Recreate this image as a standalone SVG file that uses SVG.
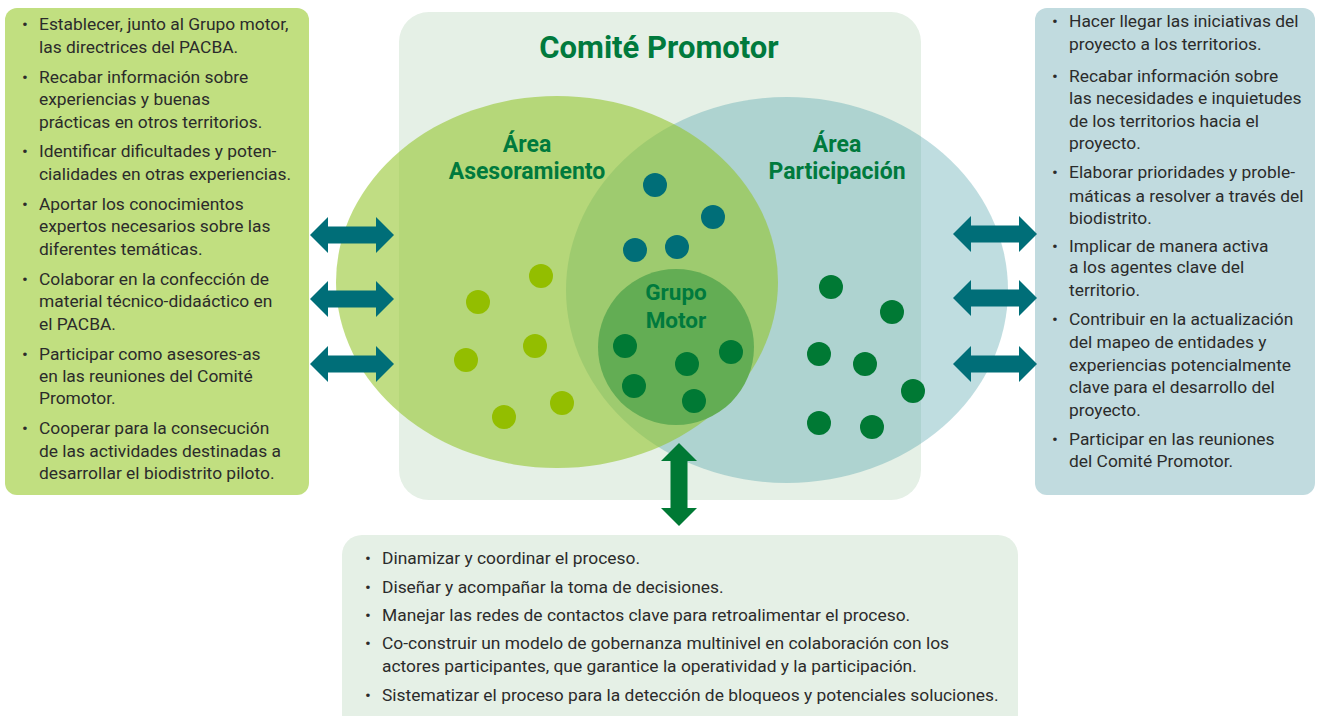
<svg xmlns="http://www.w3.org/2000/svg" width="1317" height="716" viewBox="0 0 1317 716">
<defs>
<style>
.t{font-family:Roboto,"Liberation Sans",sans-serif;font-size:17.4px;fill:#2b2b2b}
.h{font-family:Roboto,"Liberation Sans",sans-serif;font-weight:bold;fill:#007a3d;text-anchor:middle}
.lg{fill:#93be00}
.tl{fill:#006e78}
.dg{fill:#007934}
</style>
<path id="harr" d="M0,0 L18,-18 L18,-8.5 L66,-8.5 L66,-18 L84,0 L66,18 L66,8.5 L18,8.5 L18,18 Z" fill="#006e78"/>
</defs>
<rect width="1317" height="716" fill="#ffffff"/>

<g id="comite">
<rect x="399" y="12" width="522" height="488" rx="30" fill="#e5f0e6"/>
<text class="h" x="659" y="58" font-size="31">Comité Promotor</text>
</g>

<g id="area-participacion">
<ellipse cx="787" cy="290" rx="221" ry="193" fill="#479da6" opacity="0.35"/>
</g>
<g id="area-asesoramiento">
<ellipse cx="557" cy="282" rx="221" ry="186" fill="#92c52a" opacity="0.58"/>
</g>
<g id="grupo-motor">
<circle cx="676" cy="347" r="78" fill="#63ad54"/>
<text class="h" x="676" y="300" font-size="22.5">Grupo</text>
<text class="h" x="676" y="328" font-size="22.5">Motor</text>
</g>

<g id="labels">
<text class="h" x="527" y="152" font-size="23">Área</text>
<text class="h" x="527" y="179" font-size="23">Asesoramiento</text>
<text class="h" x="837" y="152" font-size="23">Área</text>
<text class="h" x="837" y="179" font-size="23">Participación</text>
</g>

<g id="dots">
<circle class="lg" cx="541" cy="276" r="12"/>
<circle class="lg" cx="478" cy="302" r="12"/>
<circle class="lg" cx="535" cy="346" r="12"/>
<circle class="lg" cx="466" cy="360" r="12"/>
<circle class="lg" cx="562" cy="403" r="12"/>
<circle class="lg" cx="504" cy="417" r="12"/>
<circle class="tl" cx="655" cy="185" r="12"/>
<circle class="tl" cx="713" cy="217" r="12"/>
<circle class="tl" cx="635" cy="250" r="12"/>
<circle class="tl" cx="677" cy="247" r="12"/>
<circle class="dg" cx="625" cy="346" r="12"/>
<circle class="dg" cx="687" cy="364" r="12"/>
<circle class="dg" cx="634" cy="386" r="12"/>
<circle class="dg" cx="694" cy="401" r="12"/>
<circle class="dg" cx="731" cy="352" r="12"/>
<circle class="dg" cx="831" cy="287" r="12"/>
<circle class="dg" cx="892" cy="312" r="12"/>
<circle class="dg" cx="819" cy="354" r="12"/>
<circle class="dg" cx="865" cy="364" r="12"/>
<circle class="dg" cx="913" cy="391" r="12"/>
<circle class="dg" cx="819" cy="423" r="12"/>
<circle class="dg" cx="872" cy="427" r="12"/>
</g>

<g id="box-asesoramiento">
<rect x="5" y="8" width="304" height="487" rx="12" fill="#c1df80"/>
<text class="t" x="22" y="30">•</text><text class="t" x="39" y="30">Establecer, junto al Grupo motor,</text>
<text class="t" x="39" y="53">las directrices del PACBA.</text>
<text class="t" x="22" y="83">•</text><text class="t" x="39" y="83">Recabar información sobre</text>
<text class="t" x="39" y="105">experiencias y buenas</text>
<text class="t" x="39" y="128">prácticas en otros territorios.</text>
<text class="t" x="22" y="157">•</text><text class="t" x="39" y="157">Identificar dificultades y poten-</text>
<text class="t" x="39" y="180">cialidades en otras experiencias.</text>
<text class="t" x="22" y="210">•</text><text class="t" x="39" y="210">Aportar los conocimientos</text>
<text class="t" x="39" y="232">expertos necesarios sobre las</text>
<text class="t" x="39" y="255">diferentes temáticas.</text>
<text class="t" x="22" y="285">•</text><text class="t" x="39" y="285">Colaborar en la confección de</text>
<text class="t" x="39" y="307">material técnico-didaáctico en</text>
<text class="t" x="39" y="330">el PACBA.</text>
<text class="t" x="22" y="360">•</text><text class="t" x="39" y="360">Participar como asesores-as</text>
<text class="t" x="39" y="382">en las reuniones del Comité</text>
<text class="t" x="39" y="404">Promotor.</text>
<text class="t" x="22" y="434">•</text><text class="t" x="39" y="434">Cooperar para la consecución</text>
<text class="t" x="39" y="457">de las actividades destinadas a</text>
<text class="t" x="39" y="479">desarrollar el biodistrito piloto.</text>
</g>

<g id="box-participacion">
<rect x="1035" y="8" width="280" height="487" rx="12" fill="#c1dbdf"/>
<text class="t" x="1052" y="27">•</text><text class="t" x="1069" y="27">Hacer llegar las iniciativas del</text>
<text class="t" x="1069" y="50">proyecto a los territorios.</text>
<text class="t" x="1052" y="82">•</text><text class="t" x="1069" y="82">Recabar información sobre</text>
<text class="t" x="1069" y="104">las necesidades e inquietudes</text>
<text class="t" x="1069" y="127">de los territorios hacia el</text>
<text class="t" x="1069" y="149">proyecto.</text>
<text class="t" x="1052" y="178">•</text><text class="t" x="1069" y="178">Elaborar prioridades y proble-</text>
<text class="t" x="1069" y="202">máticas a resolver a través del</text>
<text class="t" x="1069" y="224">biodistrito.</text>
<text class="t" x="1052" y="252">•</text><text class="t" x="1069" y="252">Implicar de manera activa</text>
<text class="t" x="1069" y="273">a los agentes clave del</text>
<text class="t" x="1069" y="296">territorio.</text>
<text class="t" x="1052" y="325">•</text><text class="t" x="1069" y="325">Contribuir en la actualización</text>
<text class="t" x="1069" y="348">del mapeo de entidades y</text>
<text class="t" x="1069" y="371">experiencias potencialmente</text>
<text class="t" x="1069" y="393">clave para el desarrollo del</text>
<text class="t" x="1069" y="416">proyecto.</text>
<text class="t" x="1052" y="445">•</text><text class="t" x="1069" y="445">Participar en las reuniones</text>
<text class="t" x="1069" y="467">del Comité Promotor.</text>
</g>

<g id="box-grupo-motor">
<rect x="342" y="535" width="676" height="200" rx="20" fill="#e5f0e6"/>
<text class="t" x="365" y="564">•</text><text class="t" x="382" y="564">Dinamizar y coordinar el proceso.</text>
<text class="t" x="365" y="593">•</text><text class="t" x="382" y="593">Diseñar y acompañar la toma de decisiones.</text>
<text class="t" x="365" y="621">•</text><text class="t" x="382" y="621">Manejar las redes de contactos clave para retroalimentar el proceso.</text>
<text class="t" x="365" y="649">•</text><text class="t" x="382" y="649">Co-construir un modelo de gobernanza multinivel en colaboración con los</text>
<text class="t" x="382" y="672">actores participantes, que garantice la operatividad y la participación.</text>
<text class="t" x="365" y="701">•</text><text class="t" x="382" y="701">Sistematizar el proceso para la detección de bloqueos y potenciales soluciones.</text>
</g>

<g id="connectors">
<use href="#harr" x="310" y="235"/>
<use href="#harr" x="310" y="299"/>
<use href="#harr" x="310" y="364"/>
<use href="#harr" x="953" y="234"/>
<use href="#harr" x="953" y="298"/>
<use href="#harr" x="953" y="364"/>
<path d="M679,443 L697,461 L687.5,461 L687.5,508 L697,508 L679,526 L661,508 L670.5,508 L670.5,461 L661,461 Z" fill="#007934"/>
</g>
</svg>
